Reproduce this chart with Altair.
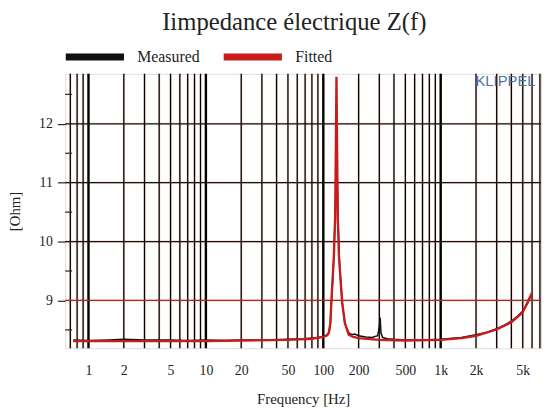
import altair as alt
import pandas as pd

# ---- data ----
fit_f = [0.74, 1, 2, 5, 10, 20, 50, 80, 100, 108, 111.7, 114.9, 117, 119.5, 123, 126.1,
         128, 129.5, 131, 132.9, 136, 141, 145, 152.6, 164.4, 180, 200, 300, 500, 1000,
         1500, 2000, 3000, 4000, 5000, 6000]
fit_z = [8.31, 8.31, 8.31, 8.31, 8.31, 8.32, 8.33, 8.35, 8.38, 8.41, 8.45, 8.62, 8.96, 9.29, 9.75, 10.4,
         11.6, 12.8, 11.6, 10.4, 9.75, 9.29, 8.96, 8.62, 8.42, 8.38, 8.36, 8.33, 8.32, 8.33,
         8.36, 8.40, 8.51, 8.63, 8.80, 9.13]

meas_f = [0.74, 1, 1.5, 2, 3, 5, 7, 10, 15, 20, 30, 50, 70, 90, 100, 108, 112, 115, 117, 120,
          123, 126, 128.5, 130.5, 132, 133.5, 137, 141, 145, 153, 165, 175, 185, 200, 230, 260,
          290, 300, 305, 310, 320, 350, 400, 500, 700, 1000, 1500, 2000, 2500, 3000, 3500, 4000,
          4500, 5000, 5500, 6000]
meas_z = [8.33, 8.32, 8.33, 8.34, 8.33, 8.33, 8.32, 8.33, 8.32, 8.33, 8.33, 8.34, 8.35, 8.37, 8.39,
          8.42, 8.47, 8.62, 8.95, 9.3, 9.75, 10.4, 10.9, 11.2, 10.9, 10.4, 9.7, 9.3, 8.95, 8.6,
          8.45, 8.42, 8.43, 8.40, 8.38, 8.37, 8.40, 8.55, 8.71, 8.45, 8.37, 8.35, 8.34, 8.33, 8.33,
          8.34, 8.37, 8.42, 8.46, 8.52, 8.58, 8.65, 8.73, 8.82, 8.95, 9.12]

series_names = ["Measured", "Fitted"]
series_colors = ["#111111", "#c81c1c"]

grid_minor = [0.7, 0.8, 0.9, 2, 3, 4, 5, 6, 7, 8, 9, 20, 30, 40, 50, 60, 70, 80, 90,
              200, 300, 400, 500, 600, 700, 800, 900, 2000, 3000, 4000, 5000, 6000, 7000]
grid_decade = [1, 10, 100, 1000]
x_tick_values = [1, 2, 5, 10, 20, 50, 100, 200, 500, 1000, 2000, 5000]
y_tick_values = [9, 10, 11, 12]
y_grid_dark = [10, 11, 12]
y_grid_red = [9]
y_minor = [8.5, 9.5, 10.5, 11.5, 12.5]

X_DOMAIN = [0.634, 7155]
Y_DOMAIN = [8.19, 12.85]

# ---- tables ----
df_fit = pd.DataFrame({"f": fit_f, "z": fit_z, "series": series_names[1]})
df_meas = pd.DataFrame({"f": meas_f, "z": meas_z, "series": series_names[0]})
df_vall = pd.DataFrame({"f": grid_minor + grid_decade})
df_vmin = pd.DataFrame({"f": grid_minor})
df_vdec = pd.DataFrame({"f": grid_decade})
df_hall = pd.DataFrame({"z": y_grid_dark + y_grid_red})
df_hdark = pd.DataFrame({"z": y_grid_dark})
df_hred = pd.DataFrame({"z": y_grid_red})
df_ymin = pd.DataFrame({"z": y_minor})

SERIF = "Liberation Serif"
xs = alt.Scale(type="log", domain=X_DOMAIN, nice=False)
ys = alt.Scale(domain=Y_DOMAIN, nice=False, zero=False)
cs = alt.Scale(domain=series_names, range=series_colors)

x_axis = alt.Axis(
    values=x_tick_values,
    labelExpr="datum.value >= 1000 ? (datum.value / 1000) + 'k' : '' + datum.value",
    grid=False, ticks=False, domain=False, tickSize=0,
    labelFont=SERIF, labelFontSize=14, labelColor="#222", labelPadding=16,
    labelBaseline="top", labelFlush=False, labelOverlap=False,
    titleFont=SERIF, titleFontSize=15, titleFontWeight="normal", titleColor="#222",
    titleY=56, titleBaseline="alphabetic",
)
y_axis = alt.Axis(
    values=y_tick_values, grid=False, domain=False, ticks=True, tickSize=8,
    tickColor="#222", tickWidth=1.2,
    labelFont=SERIF, labelFontSize=14, labelColor="#222", labelPadding=5,
    titleFont=SERIF, titleFontSize=15, titleFontWeight="normal", titleColor="#222",
    titleAngle=-90, titleX=-51, titleY=139, titleAlign="center", titleBaseline="middle",
)
X_TITLE = "Frequency [Hz]"
Y_TITLE = "[Ohm]"


def xenc(field="f:Q"):
    return alt.X(field, scale=xs, axis=x_axis, title=X_TITLE)


def yenc(field="z:Q"):
    return alt.Y(field, scale=ys, axis=y_axis, title=Y_TITLE)


legend = alt.Legend(
    orient="none", legendX=-3, legendY=-50, direction="horizontal", title=None,
    symbolType="stroke", symbolStrokeWidth=7, symbolSize=3481,
    labelFont=SERIF, labelFontSize=16, labelColor="#222", labelOffset=10,
    columnPadding=9, padding=0,
)

halo = dict(color="#f08a6a", opacity=0.3, strokeWidth=2.6)

v_halo = alt.Chart(df_vall).mark_rule(**halo).encode(x=xenc())
h_halo = alt.Chart(df_hall).mark_rule(**halo).encode(y=yenc())
v_min = alt.Chart(df_vmin).mark_rule(color="#000000", strokeWidth=1.3).encode(x=xenc())
v_dec = alt.Chart(df_vdec).mark_rule(color="#000000", strokeWidth=2.4).encode(x=xenc())
h_dark = alt.Chart(df_hdark).mark_rule(color="#141414", strokeWidth=1.3).encode(y=yenc())
h_red = alt.Chart(df_hred).mark_rule(color="#9a3424", strokeWidth=1.3).encode(y=yenc())
y_min_ticks = alt.Chart(df_ymin).mark_rule(color="#222", strokeWidth=1.2).encode(
    y=yenc(), x=alt.value(0), x2=alt.value(7))

meas = alt.Chart(df_meas).mark_line(strokeWidth=1.5, clip=True).encode(
    x=xenc(), y=yenc(),
    color=alt.Color("series:N", scale=cs, legend=legend, sort=series_names),
    order="f:Q",
)
fit = alt.Chart(df_fit).mark_line(strokeWidth=2.4, clip=True).encode(
    x=xenc(), y=yenc(),
    color=alt.Color("series:N", scale=cs, legend=legend, sort=series_names),
    order="f:Q",
)

brand = alt.Chart(pd.DataFrame({"t": ["KLIPPEL"]})).mark_text(
    font="Liberation Sans", fontSize=15, color="#4a72a3", align="center", baseline="middle"
).encode(text="t:N", x=alt.value(446), y=alt.value(7))

chart = alt.layer(
    v_halo, h_halo, v_min, v_dec, h_dark, h_red, y_min_ticks, meas, fit, brand
).properties(
    width=482, height=278,
    title=alt.TitleParams("Iimpedance électrique Z(f)", font=SERIF, fontSize=25,
                          fontWeight="normal", color="#222", anchor="middle", dy=15, dx=-9),
    autosize=alt.AutoSizeParams(type="none"),
    padding={"left": 58, "top": 64, "right": 2, "bottom": 58},
).configure_view(stroke="#111", strokeWidth=1.6).configure(background="white")

chart.save("out.html", embed_options={"renderer": "svg", "actions": False})
